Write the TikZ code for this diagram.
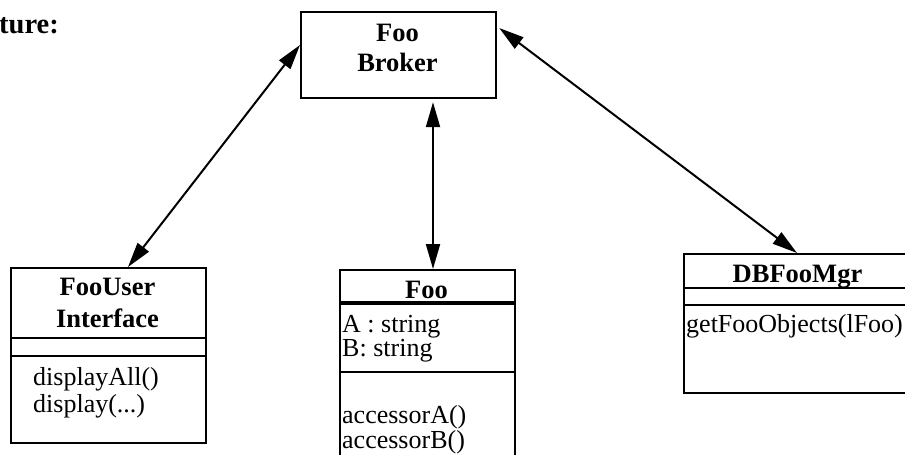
\documentclass[tikz,border=0pt]{standalone}
\usepackage{fontspec}
\setmainfont{Liberation Serif}
\usetikzlibrary{arrows.meta,calc}
\tikzset{
  classbox/.style={draw, line width=2.2pt, rectangle, inner sep=0pt, anchor=north west},
  divider/.style={line width=2.2pt},
  thickdivider/.style={line width=3.4pt},
  link/.style={line width=2pt, {Triangle[length=25pt,width=14pt]}-{Triangle[length=25pt,width=14pt]}},
  title/.style={font=\fontsize{26.5}{30}\selectfont\bfseries, inner sep=0pt, anchor=base},
  member/.style={font=\fontsize{26}{30}\selectfont, inner sep=0pt, anchor=base west},
}
\begin{document}
\begin{tikzpicture}[x=1pt,y=-1pt]
\clip (0,0) rectangle (905,455);
\fill[white] (0,0) rectangle (905,455);

% heading fragment
\node[font=\fontsize{28.5}{30}\selectfont\bfseries, inner sep=0pt, anchor=base west] (heading) at (-1,33) {ture:};

% broker
\node[classbox, minimum width=195, minimum height=86] (broker) at (300,11) {};
\node[title] (brokerA) at (397.5,41) {Foo};
\node[title] (brokerB) at (397.5,71) {Broker};

% FooUser Interface
\node[classbox, minimum width=195, minimum height=175] (ui) at (10,267) {};
\draw[divider] (10,338) -- (205,338);
\draw[divider] (10,356) -- (205,356);
\node[title] (uiA) at (107.5,295) {FooUser};
\node[title] (uiB) at (107.5,327) {Interface};
\node[member] (uiM1) at (33,385) {displayAll()};
\node[member] (uiM2) at (33,412) {display(...)};

% Foo
\node[classbox, minimum width=175, minimum height=220] (foo) at (339,269) {};
\draw[thickdivider] (339,303) -- (514,303);
\draw[divider] (339,372) -- (514,372);
\node[title] (fooT) at (426.5,298) {Foo};
\node[member] (fooA1) at (342,332) {A : string};
\node[member] (fooA2) at (342,356) {B: string};
\node[member] (fooM1) at (342,423) {accessorA()};
\node[member] (fooM2) at (342,448) {accessorB()};

% DBFooMgr
\node[classbox, minimum width=229, minimum height=139] (db) at (683,253) {};
\draw[divider] (683,288) -- (912,288);
\draw[divider] (683,305) -- (912,305);
\node[title] (dbT) at (797.5,282) {DBFooMgr};
\node[member] (dbM1) at (686,332) {getFooObjects(lFoo)};

% connectors
\coordinate (brokerL) at ([yshift=-34]broker.north west);
\coordinate (brokerR) at ([xshift=2,yshift=-17]broker.north east);
\coordinate (brokerS) at ([yshift=-3]broker.south -| 433,0);
\coordinate (uiTop) at (ui.north -| 128,0);
\coordinate (fooTop) at (foo.north -| 433,0);
\coordinate (dbTop) at (db.north -| 797,0);
\draw[link] (brokerL) -- (uiTop);
\draw[link] (brokerS) -- (fooTop);
\draw[link] (brokerR) -- (dbTop);
\end{tikzpicture}
\end{document}
